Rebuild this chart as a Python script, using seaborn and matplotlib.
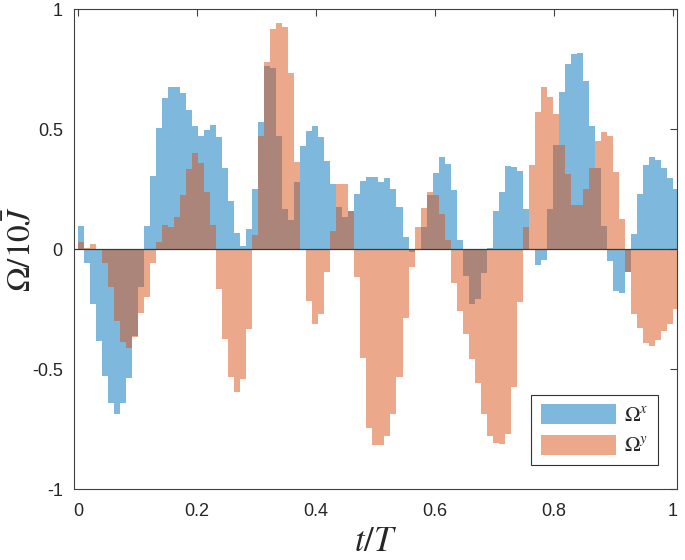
import numpy as np
import pandas as pd
import matplotlib
matplotlib.use("Agg")
import matplotlib.pyplot as plt
import seaborn as sns
from matplotlib.patches import Patch

# === data: 100 bins over t/T ===
t_left = np.arange(100) / 99
bar_w = 1 / 99

omega_x = [
    0.098, -0.058, -0.228, -0.381, -0.528, -0.639, -0.686, -0.639, -0.538, -0.360,
    -0.156, 0.097, 0.305, 0.504, 0.629, 0.675, 0.678, 0.653, 0.581, 0.515,
    0.474, 0.497, 0.517, 0.468, 0.338, 0.203, 0.069, 0.014, 0.083, 0.250,
    0.532, 0.764, 0.757, 0.470, 0.168, 0.124, 0.282, 0.430, 0.494, 0.514,
    0.468, 0.369, 0.271, 0.178, 0.136, 0.161, 0.229, 0.286, 0.303, 0.302,
    0.282, 0.297, 0.250, 0.175, 0.050, -0.013, 0.000, 0.094, 0.226, 0.317,
    0.385, 0.355, 0.248, 0.039, -0.110, -0.228, -0.206, -0.097, 0.004, 0.161,
    0.240, 0.347, 0.344, 0.327, 0.168, 0.000, -0.065, -0.045, 0.168, 0.435,
    0.654, 0.770, 0.815, 0.816, 0.703, 0.514, 0.340, 0.098, -0.050, -0.173,
    -0.184, -0.096, 0.064, 0.230, 0.350, 0.386, 0.372, 0.340, 0.296, 0.250,
]

omega_y = [
    0.032, 0.007, 0.022, 0.000, -0.058, -0.156, -0.299, -0.386, -0.413, -0.367,
    -0.267, -0.197, -0.058, 0.032, 0.101, 0.091, 0.133, 0.226, 0.333, 0.400,
    0.361, 0.240, 0.101, -0.167, -0.374, -0.533, -0.593, -0.540, -0.333, 0.060,
    0.472, 0.782, 0.917, 0.944, 0.928, 0.736, 0.365, 0.000, -0.214, -0.311,
    -0.271, -0.093, 0.078, 0.272, 0.272, 0.161, -0.117, -0.451, -0.743, -0.815,
    -0.815, -0.776, -0.688, -0.531, -0.285, -0.075, 0.094, 0.174, 0.240, 0.226,
    0.146, 0.039, -0.139, -0.256, -0.354, -0.456, -0.558, -0.688, -0.780, -0.806,
    -0.810, -0.770, -0.572, -0.218, 0.094, 0.353, 0.573, 0.675, 0.633, 0.565,
    0.435, 0.312, 0.184, 0.185, 0.250, 0.340, 0.451, 0.490, 0.472, 0.323,
    0.126, -0.096, -0.270, -0.330, -0.390, -0.405, -0.380, -0.340, -0.310, -0.250,
]

x_ticks = [0, 0.2, 0.4, 0.6, 0.8, 1]
x_ticklabels = ["0", "0.2", "0.4", "0.6", "0.8", "1"]
y_ticks = [-1, -0.5, 0, 0.5, 1]
y_ticklabels = ["-1", "-0.5", "0", "0.5", "1"]

blue = (0.0, 0.447, 0.741)
orange = (0.85, 0.325, 0.098)

df = pd.DataFrame({"t": t_left + bar_w / 2, "ox": omega_x, "oy": omega_y})

sns.set_theme(style="white")
plt.rcParams['font.family'] = ['Liberation Sans', 'DejaVu Sans']
plt.rcParams['mathtext.fontset'] = 'stix'

fig = plt.figure(figsize=(6.85, 5.6), dpi=100)
ax = fig.add_axes([0.108, 0.1263, 0.8803, 0.8571])

# === bars ===
common = dict(native_scale=True, width=1, saturation=1, errorbar=None,
              linewidth=0, edgecolor="none", antialiased=False, ax=ax)
sns.barplot(data=df, x="t", y="ox", color=blue, alpha=0.5, **common)
sns.barplot(data=df, x="t", y="oy", color=orange, alpha=0.5, **common)

ax.axhline(0, color="#3a3a3a", lw=0.9, zorder=5)

ax.set_xlim(-0.0072, 1.0072)
ax.set_ylim(-1, 1)
ax.set_xticks(x_ticks)
ax.set_xticklabels(x_ticklabels)
ax.set_yticks(y_ticks)
ax.set_yticklabels(y_ticklabels)
ax.tick_params(direction="in", length=5, width=0.8, top=True, right=True,
               colors="#404040", labelcolor="#262626", labelsize=13)
ax.tick_params(axis="y", pad=8)
ax.tick_params(axis="x", pad=10)
for sp in ax.spines.values():
    sp.set_color("#404040")
    sp.set_linewidth(0.8)

ax.set_xlabel(r"$t/T$", fontsize=25)
ax.xaxis.set_label_coords(0.5, -0.128)
ax.xaxis.label.set_va("baseline")
ax.set_ylabel(r"$\Omega/10\bar{J}$", fontsize=24)
ax.yaxis.set_label_coords(-0.06, 0.5)

# === legend ===
handles = [Patch(facecolor=blue, alpha=0.5, edgecolor="none", label=r"$\Omega^x$"),
           Patch(facecolor=orange, alpha=0.5, edgecolor="none", label=r"$\Omega^y$")]
leg = ax.legend(handles=handles, loc="lower right", bbox_to_anchor=(0.968, 0.05),
                borderaxespad=0, fancybox=False, edgecolor="#333333", framealpha=1,
                fontsize=15, handlelength=3.6, handleheight=1.1, borderpad=0.45,
                labelspacing=0.45, handletextpad=0.4)
leg.get_frame().set_linewidth(0.8)

fig.savefig("out.png", dpi=100)
